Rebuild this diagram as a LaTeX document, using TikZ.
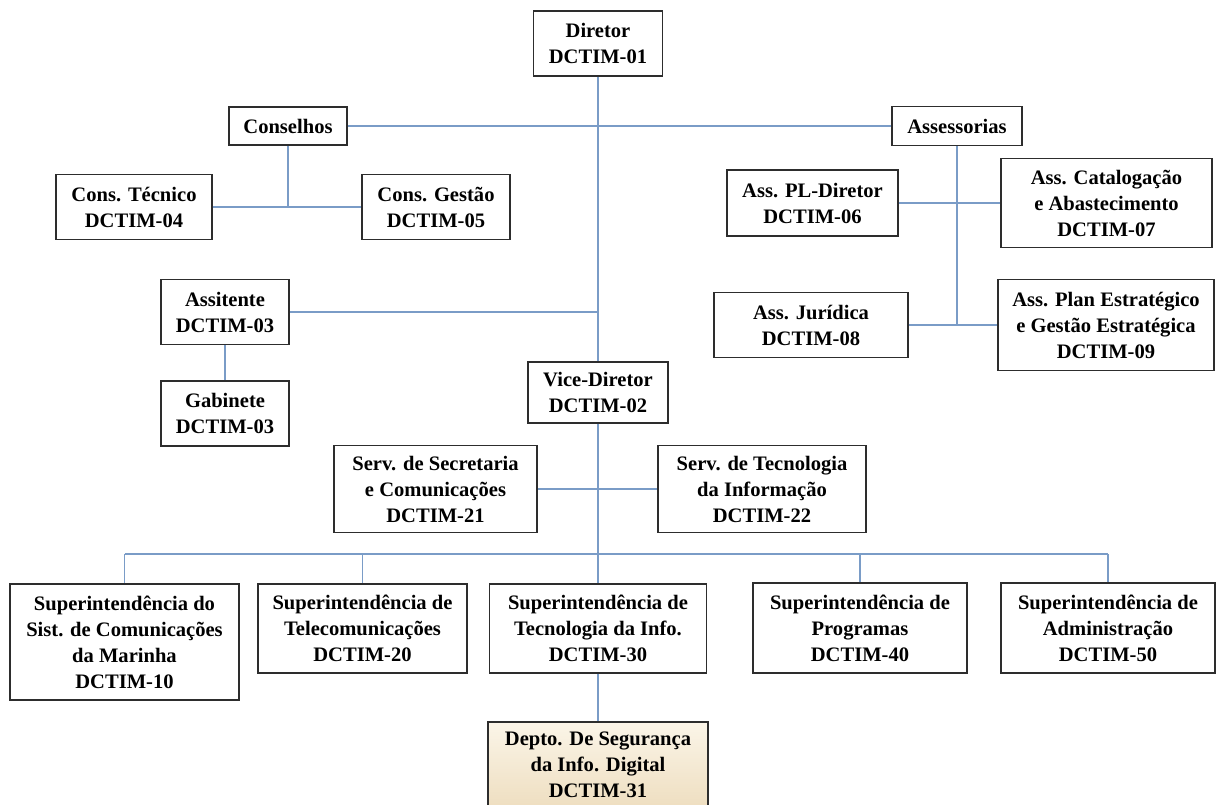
\documentclass[tikz,border=0pt]{standalone}
\usepackage{fontspec}
\setmainfont{Liberation Serif}
\usepackage{tikz}
\usetikzlibrary{positioning}

\definecolor{linkblue}{RGB}{122,156,199}
\definecolor{boxline}{RGB}{45,45,45}
\definecolor{creamtop}{RGB}{251,245,232}
\definecolor{creambot}{RGB}{238,222,192}

\begin{document}
\begin{tikzpicture}[x=0.2mm, y=-0.2mm,
        unit/.style 2 args = {draw = boxline, line width = 0.9pt, fill = white,
            align = center, inner sep = 0pt,
            font = \bfseries\fontsize{11.7}{14.8}\selectfont,
            minimum width = #1*0.2mm, minimum height = #2*0.2mm},
        link/.style = {draw = linkblue, line width = 1.1pt}]
        % page frame
        \useasboundingbox (0,0) rectangle (1218,805);

        % height of the bus over the superintendencies
        \coordinate (bus) at (0,554);

        % top level
        \node[unit = {129}{65}] (dir) at (598,43.5) {Diretor\\DCTIM-01};
        \node[unit = {118}{38}] (cons) at (288,126) {Conselhos};
        \node[unit = {130}{39}] (asse) at (957,126) {Assessorias};

        % councils
        \node[unit = {156}{65}] (ctec) at (134,207) {Cons. Técnico\\DCTIM-04};
        \node[unit = {148}{65}] (cges) at (436,207) {Cons. Gestão\\DCTIM-05};

        % advisors
        \node[unit = {171}{66}] (apl) at (812.5,203) {Ass. PL-Diretor\\DCTIM-06};
        \node[unit = {211}{89}] (acat) at (1106.5,203) {Ass. Catalogação\\e Abastecimento\\DCTIM-07};
        \node[unit = {194}{65}] (ajur) at (811,325) {Ass. Jurídica\\DCTIM-08};
        \node[unit = {216}{91}] (aplan) at (1106,325) {Ass. Plan Estratégico\\e Gestão Estratégica\\DCTIM-09};

        % assistant and cabinet
        \node[unit = {128}{65}] (assi) at (225,312) {Assitente\\DCTIM-03};
        \node[unit = {128}{65}] (gab) at (225,413.5) {Gabinete\\DCTIM-03};

        % vice director and services
        \node[unit = {140}{61}] (vice) at (598,392.5) {Vice-Diretor\\DCTIM-02};
        \node[unit = {203}{87}] (ssec) at (435.5,489) {Serv. de Secretaria\\e Comunicações\\DCTIM-21};
        \node[unit = {208}{87}] (stec) at (762,489) {Serv. de Tecnologia\\da Informação\\DCTIM-22};

        % superintendencies
        \node[unit = {229}{116}] (sup1) at (124.5,642) {Superintendência do\\Sist. de Comunicações\\da Marinha\\DCTIM-10};
        \node[unit = {209}{89}] (sup2) at (362.5,628.5) {Superintendência de\\Telecomunicações\\DCTIM-20};
        \node[unit = {217}{89}] (sup3) at (598,628.5) {Superintendência de\\Tecnologia da Info.\\DCTIM-30};
        \node[unit = {214}{90}] (sup4) at (860,628) {Superintendência de\\Programas\\DCTIM-40};
        \node[unit = {214}{90}] (sup5) at (1108,628) {Superintendência de\\Administração\\DCTIM-50};

        % department
        \node[unit = {220}{86}, top color = creamtop, bottom color = creambot] (dep) at (598,765)
            {Depto. De Segurança\\da Info. Digital\\DCTIM-31};

        % links
        \draw[link] (dir.south) -- (vice.north);
        \draw[link] (cons.east) -- (asse.west);
        \draw[link] (cons.south) -- (cons.south |- ctec.east);
        \draw[link] (ctec.east) -- (cges.west);
        \draw[link] (asse.south) -- (asse.south |- ajur.east);
        \draw[link] (apl.east) -- (acat.west);
        \draw[link] (ajur.east) -- (aplan.west);
        \draw[link] (assi.east) -- (dir.south |- assi.east);
        \draw[link] (assi.south) -- (gab.north);
        \draw[link] (vice.south) -- (sup3.north);
        \draw[link] (ssec.east) -- (stec.west);
        \draw[link] (sup1.north |- bus) -- (sup5.north |- bus);
        \foreach \s in {sup1,sup2,sup4,sup5}
            \draw[link] (\s.north) -- (\s.north |- bus);
        \draw[link] (sup3.south) -- (dep.north);
    \end{tikzpicture}
\end{document}
